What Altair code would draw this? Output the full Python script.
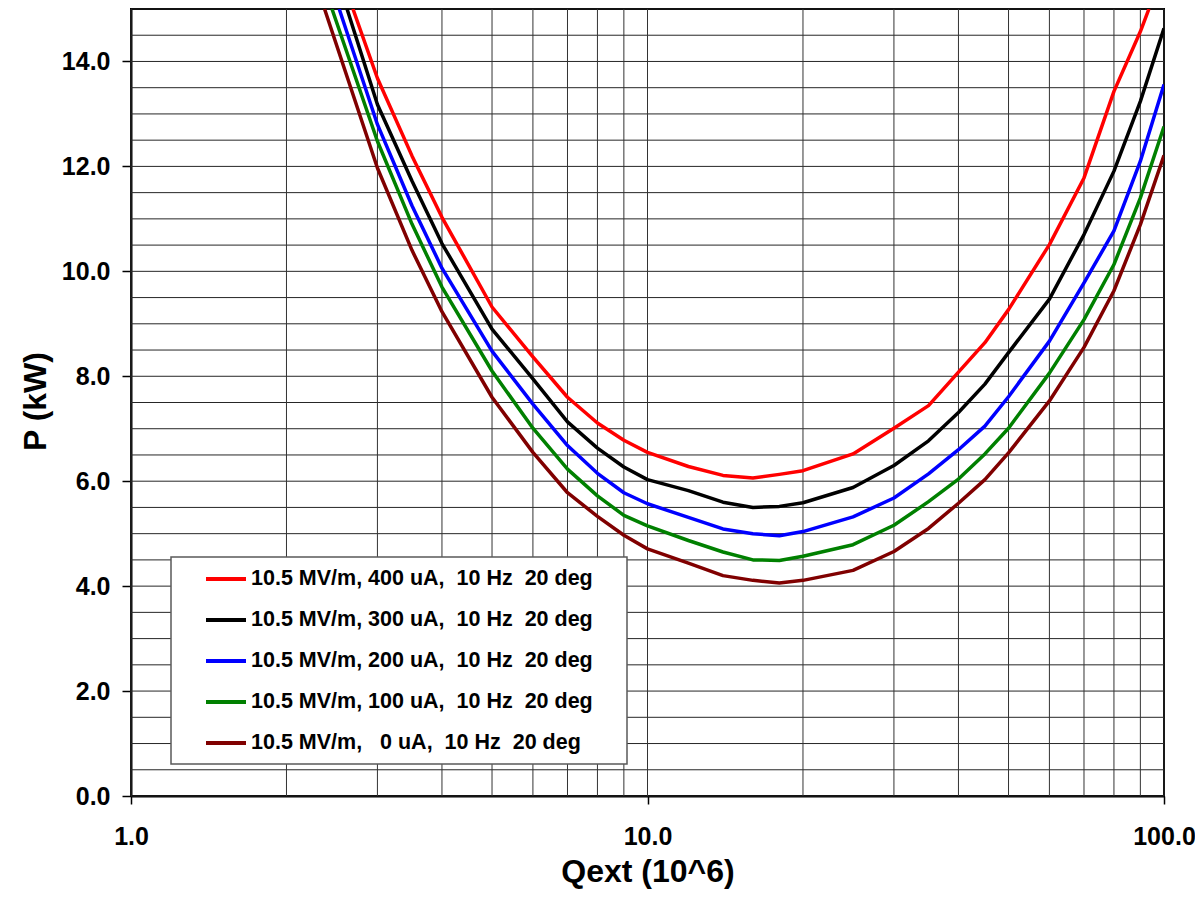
import altair as alt
import pandas as pd

NB = "\u00a0"
NAMES = [
    f"10.5 MV/m, 400 uA,{NB} 10 Hz{NB} 20 deg",
    f"10.5 MV/m, 300 uA,{NB} 10 Hz{NB} 20 deg",
    f"10.5 MV/m, 200 uA,{NB} 10 Hz{NB} 20 deg",
    f"10.5 MV/m, 100 uA,{NB} 10 Hz{NB} 20 deg",
    f"10.5 MV/m,{NB}{NB} 0 uA,{NB} 10 Hz{NB} 20 deg",
]
COLORS = ["#FF0000", "#000000", "#0000FF", "#008000", "#800000"]

Q_COMMON = [3, 3.5, 4, 5, 6, 7, 8, 9, 10, 12, 14, 16, 18, 20, 25, 30, 35, 40, 45, 50, 60, 70, 80, 90]

Q_400 = [2.69] + Q_COMMON + [93.5]
P_400 = [15.0, 13.68, 12.20, 11.03, 9.32, 8.37, 7.60, 7.11, 6.78, 6.55, 6.28, 6.11, 6.06, 6.13, 6.20,
         6.52, 7.01, 7.44, 8.08, 8.64, 9.27, 10.51, 11.78, 13.43, 14.57, 15.0]

Q_300 = [2.62] + Q_COMMON + [100]
P_300 = [15.0, 13.18, 11.72, 10.53, 8.90, 7.95, 7.13, 6.63, 6.27, 6.03, 5.82, 5.60, 5.50, 5.52, 5.59,
         5.88, 6.30, 6.77, 7.31, 7.85, 8.45, 9.47, 10.70, 11.91, 13.24, 14.63]

Q_200 = [2.53] + Q_COMMON + [100]
P_200 = [15.0, 12.80, 11.25, 10.06, 8.48, 7.47, 6.68, 6.15, 5.78, 5.57, 5.31, 5.09, 5.00, 4.96, 5.04,
         5.32, 5.68, 6.14, 6.60, 7.05, 7.61, 8.67, 9.78, 10.77, 12.10, 13.56]

Q_100 = [2.45] + Q_COMMON + [100]
P_100 = [15.0, 12.48, 10.90, 9.70, 8.10, 7.01, 6.23, 5.72, 5.35, 5.15, 4.87, 4.65, 4.50, 4.49, 4.57,
         4.79, 5.16, 5.61, 6.04, 6.52, 7.01, 8.06, 9.08, 10.13, 11.40, 12.76]

Q_0 = [2.37] + Q_COMMON + [100]
P_0 = [15.0, 11.97, 10.40, 9.23, 7.60, 6.55, 5.78, 5.33, 4.97, 4.71, 4.44, 4.20, 4.11, 4.06, 4.11,
       4.30, 4.66, 5.10, 5.58, 6.03, 6.54, 7.53, 8.55, 9.63, 10.89, 12.21]

X_GRID = [1, 2, 3, 4, 5, 6, 7, 8, 9, 10, 20, 30, 40, 50, 60, 70, 80, 90, 100]
Y_GRID = [i * 0.5 for i in range(0, 31)]
X_TICKS = [1, 10, 100]
Y_TICKS = [0, 2, 4, 6, 8, 10, 12, 14]

rows = []
for name, qs, ps in zip(NAMES, [Q_400, Q_300, Q_200, Q_100, Q_0], [P_400, P_300, P_200, P_100, P_0]):
    for i, (q, p) in enumerate(zip(qs, ps)):
        rows.append({"series": name, "Q": q, "P": p, "i": i})
df = pd.DataFrame(rows)

x_scale = alt.Scale(type="log", domain=[1, 100], nice=False)
y_scale = alt.Scale(domain=[0, 15], nice=False, zero=False)

FONT = "Liberation Sans"

x_axis = alt.Axis(values=X_TICKS, format=".1f", title="Qext (10^6)", grid=False, labelFlush=False,
                  tickSize=8, labelPadding=20, titleY=75, titleBaseline="middle")
y_axis = alt.Axis(values=Y_TICKS, format=".1f", title="P (kW)", grid=False, labelFlush=False,
                  tickSize=9, labelPadding=12, titleX=-96, titleY=392,
                  titleBaseline="middle", titleAngle=-90)

hgrid = alt.Chart(pd.DataFrame({"P": Y_GRID})).mark_rule(color="#262626", strokeWidth=1).encode(
    y=alt.Y("P:Q", scale=y_scale, axis=y_axis)
)
vgrid = alt.Chart(pd.DataFrame({"Q": X_GRID})).mark_rule(color="#333333", strokeWidth=1).encode(
    x=alt.X("Q:Q", scale=x_scale, axis=x_axis)
)

legend_box = alt.Chart(pd.DataFrame({"k": [0]})).mark_rect(
    fill="white", stroke="#5a5a5a", strokeWidth=1.5
).encode(
    x=alt.value(40), x2=alt.value(496), y=alt.value(548), y2=alt.value(755)
)

lines = alt.Chart(df).mark_line(strokeWidth=3.5, clip=True, strokeJoin="round").encode(
    x=alt.X("Q:Q", scale=x_scale, axis=x_axis),
    y=alt.Y("P:Q", scale=y_scale, axis=y_axis),
    color=alt.Color("series:N", sort=NAMES,
                    scale=alt.Scale(domain=NAMES, range=COLORS),
                    legend=alt.Legend(title=None, orient="none", legendX=73, legendY=548,
                                      padding=0, symbolType="stroke", symbolStrokeWidth=4,
                                      symbolSize=1600, symbolOffset=0, labelOffset=3,
                                      labelFontSize=21.5, labelFont=FONT, labelFontWeight="bold",
                                      labelLimit=700, labelColor="black", rowPadding=8)),
    order=alt.Order("i:Q"),
)

chart = alt.layer(hgrid, vgrid, legend_box, lines).properties(
    width=1033, height=787,
    autosize=alt.AutoSizeParams(type="none"),
    padding={"left": 123, "top": 1, "right": 31, "bottom": 95},
).configure_view(
    stroke="black", strokeWidth=2
).configure_axis(
    labelFont=FONT, labelFontWeight="bold", labelFontSize=25, labelColor="black",
    titleFont=FONT, titleFontWeight="bold", titleFontSize=32, titleColor="black",
    domainColor="black", domainWidth=2, tickColor="black", tickWidth=1.5,
)

chart.save("out.html", embed_options={"renderer": "svg", "actions": False})
